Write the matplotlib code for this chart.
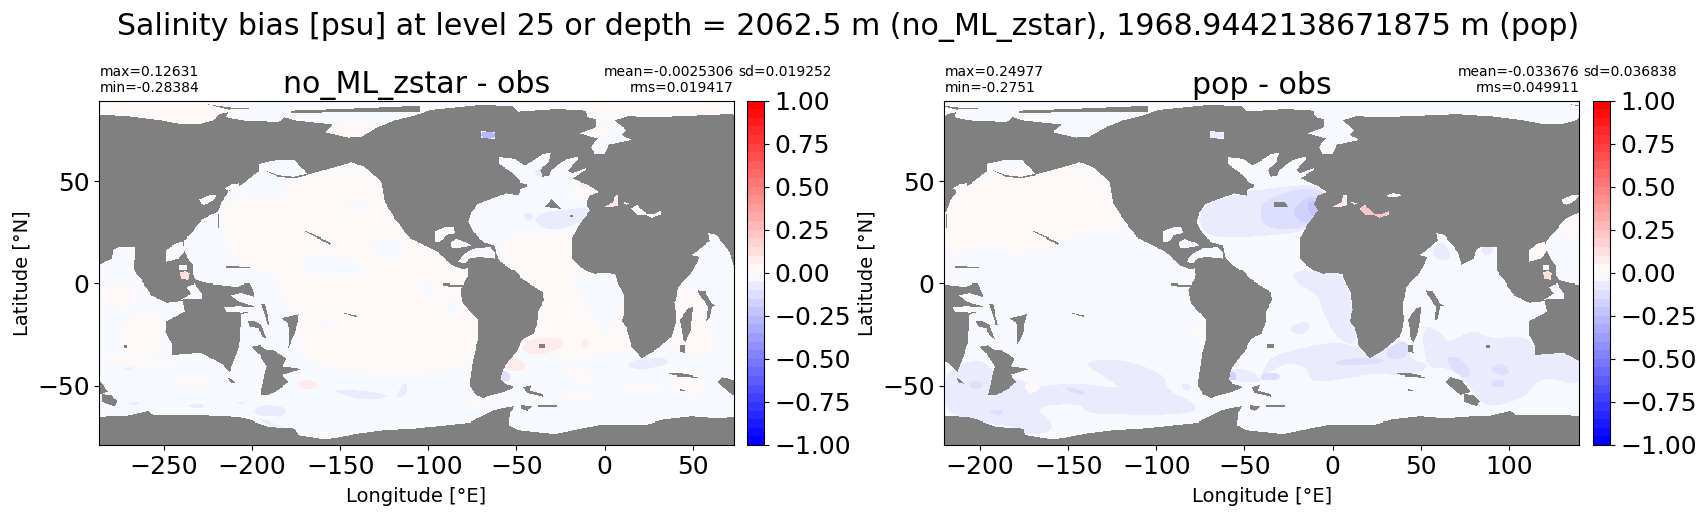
import matplotlib
matplotlib.use('Agg')
import matplotlib.pyplot as plt
import numpy as np
from matplotlib.path import Path

# all shapes are (lon, lat), seam of the map at 73E / -287E
main_land = [
    (-287, 82.7), (-270.4, 81.9), (-251.5, 79.8), (-242, 78.2), (-228.8, 78.2), (-222, 79.8), (-218.3, 83),
    (-213.6, 83.9), (-214.6, 81.4), (-206, 79.8), (-185, 79), (-181.5, 81.4), (-175.8, 79.8), (-158.7, 78.2),
    (-154, 77.7), (-158.7, 73.8), (-145.5, 71.2), (-138, 71.6), (-128.5, 76.5), (-119, 79.8), (-107.7, 82.2),
    (-99, 85), (-71.8, 87.4), (-51.9, 87.1), (-49, 84.2), (-26.3, 85.5), (-11.2, 84.7), (-9.3, 81.4),
    (-4.6, 80.3), (-4.6, 76.5), (-14, 73.3), (-7.4, 71.6), (-3.6, 70.8), (-7.8, 66.8), (-5.5, 63.5),
    (0.1, 63.5), (2, 67.6), (15.3, 70), (9.6, 72.5), (12.4, 74.9), (5.8, 79.8), (13.4, 81.9), (28.5, 81.4),
    (73, 83), (73, 9), (71.1, 15.5), (63.5, 23.6), (58.8, 24.4), (59.7, 21.2), (53.1, 16.3), (49.3, 13.9),
    (54, 13), (49.3, 4.9), (41.8, -1.6), (40.8, -8.1), (39.5, -9), (40.8, -17.9), (38, -26), (27.6, -33.4),
    (21, -36.6), (15.3, -31), (12.4, -21.2), (9.6, -18.7), (11.5, -13), (10.6, -4.9), (6.8, 1.6), (5.9, 4.5),
    (0.1, 5.2), (-5.5, 4.6), (-11.2, 6.5), (-15, 9), (-18.2, 12.2), (-18.2, 22), (-15, 27.7), (-10.3, 33.4),
    (-8.4, 35.8), (-10.3, 39.1), (-8.4, 43.2), (-3.6, 44.8), (-9.3, 48), (-12.2, 48.9), (-17.8, 51.3),
    (-11.2, 55.4), (-10.3, 56.5), (-14, 55.4), (-18.8, 53.7), (-20.7, 55.4), (-15, 61.1), (-15, 62.2),
    (-20.7, 61.1), (-24.5, 59.4), (-30.1, 55.4), (-31.1, 52.9), (-34.9, 52.1), (-36.7, 55.4), (-32, 59.4),
    (-30.1, 64.3), (-34.9, 63.5), (-43.4, 58.6), (-45.3, 57.8), (-50.9, 61.1), (-59.5, 61.9), (-59.5, 58.6),
    (-50.9, 52.9), (-47.2, 48.9), (-44.3, 48.4), (-44.3, 47.2), (-48.1, 45.6), (-49, 43.2), (-55.7, 44.3),
    (-67, 40.7), (-71.8, 39.1), (-75.5, 35), (-77, 30.1), (-74.6, 25.3), (-68.9, 20.4), (-62.3, 18.7),
    (-61.3, 13.9), (-58.9, 10.6), (-52.8, 6.5), (-50.9, 6.5), (-47.2, 2.4), (-34.9, -4.1), (-34.3, -8.1),
    (-37.7, -13.8), (-38.1, -20.3), (-40.5, -24.4), (-46.2, -26.9), (-50, -33.4), (-53.8, -37.4),
    (-57.6, -42.3), (-58.9, -46.4), (-56.6, -48.8), (-50.9, -50.5), (-56.6, -52.9), (-66.1, -55),
    (-68.9, -56.2), (-73.6, -54), (-76.5, -49.6), (-74.6, -37.4), (-71.7, -26.9), (-71.7, -17.9),
    (-80.3, -9.8), (-81.6, -3.2), (-77.4, 4.1), (-79.3, 6.5), (-86.9, 9), (-94.5, 15.5), (-107.7, 21.2),
    (-111.4, 22.8), (-119, 31.8), (-124.7, 39.9), (-126.6, 49.7), (-136, 57), (-143.6, 59.4), (-149.3, 57.8),
    (-168.2, 53.3), (-170, 54.9), (-175.8, 60.3), (-187.1, 60.3), (-196.2, 58.6), (-196.2, 54.9),
    (-200.4, 52.1), (-206, 48), (-213.6, 44.8), (-217.4, 39.9), (-219.3, 35), (-224, 33.4), (-228.8, 31),
    (-234.4, 24.4), (-238.6, 21.2), (-238.6, 16.3), (-236.3, 12.2), (-233.5, 9), (-233.5, 4.1), (-231.6, 1.6),
    (-225, 0), (-216.5, -0.8), (-208, -1.6), (-204.2, 0), (-201.3, 0), (-198.5, -4.9), (-198.5, -13.5),
    (-206, -15), (-207, -29.3), (-210.8, -39.1), (-212.7, -43.6), (-216.5, -39.9), (-228.8, -33.9),
    (-245.4, -35), (-245.4, -30.1), (-249, -23.6), (-248.6, -18.7), (-238.2, -13.8), (-239.5, -8.5),
    (-248.6, -9.4), (-257.1, -5.7), (-262.8, 1.6), (-267, 6.5), (-267, 10.6), (-266.6, 18.2), (-276, 17.9),
    (-278.9, 16.3), (-279.8, 12.2), (-287, 9),
]
antarctica = [
    (-287, -65.4), (-270.4, -64.8), (-259, -62.5), (-256.2, -64.3), (-232.5, -64.5), (-213.6, -65.1),
    (-204.2, -65.9), (-190.9, -70), (-175.8, -70.8), (-173.9, -74.1), (-160.6, -76), (-154, -75.7),
    (-139.8, -73.3), (-124.7, -71.6), (-107.7, -70.8), (-89.7, -69.2), (-76.5, -68), (-71.7, -65.9),
    (-62.3, -61.9), (-50.9, -59.9), (-53.8, -63.5), (-54.2, -69.2), (-49, -71.6), (-28.2, -73.6),
    (-13.1, -70.8), (-1.7, -68.9), (22.8, -69.2), (33.3, -66.7), (49.3, -65.1), (62.6, -66), (73, -65.6),
    (73, -85), (-287, -85),
]
islands = [
    [(-183.3, -17.1), (-173.3, -15.1), (-175.8, -24.4), (-179.6, -31.7), (-179, -27.7), (-179.6, -19.5)],
    [(-194.7, -9.8), (-192.8, -9.8), (-190, -20.3), (-191.3, -20.3)],
    [(-202.3, -18.7), (-198.5, -18.7), (-194.7, -20.3), (-191.9, -26.9), (-193.8, -26), (-196.6, -22), (-201.3, -21.2)],
    [(-200.4, -30.9), (-195.6, -30.1), (-191.9, -32.6), (-188.1, -32.6), (-180.5, -36.6), (-182.4, -40.7),
     (-172, -42), (-182.4, -44.8), (-179.6, -48), (-185.2, -52.1), (-190.9, -54.5), (-195.3, -54.5),
     (-192.8, -44), (-191.9, -40.7), (-195.6, -35)],
    [(-213.6, -45.9), (-210.8, -46.9), (-209.5, -48.8), (-212.7, -48)],
    [(64, -48), (66.9, -45.6), (73.5, -47.2), (78.2, -52.9), (72.6, -54.5), (65.9, -49.6)],
    [(74.8, -54), (80.1, -54.7), (83.6, -57.5), (82, -60.2), (74.8, -58)],
    [(-148.3, -14.6), (-147, -14.6), (-140.8, -15.8), (-141, -16.6)],
    [(-171, 25.7), (-170, 25.7), (-155, 20), (-156, 19.2)],
    [(-193, 55.4), (-185.2, 52.9), (-176.6, 52.1), (-168.2, 53.7), (-168.2, 52.9), (-176.6, 51.3), (-185.2, 52.1)],
    [(-228.8, 88.4), (-213.6, 86.3), (-200.4, 85.8), (-213.6, 85.2), (-223, 87.4)],
    [(-177.7, 84.7), (-149.3, 85.5), (-104.8, 87.1), (-104.8, 84.2), (-149.3, 83.9), (-177.7, 83.5)],
    [(-37.3, -29.6), (-33.5, -29.6), (-33.5, -31.7), (-37.3, -31.7)],
    [(-46.2, -50.5), (-41.5, -49.6), (-42.4, -52.4), (-34.9, -54), (-34.9, -55.3), (-44.3, -53.4)],
    [(-47, -59.5), (-41, -60.3), (-44, -62.5), (-47, -61.5)],
    [(-37.7, -59.7), (-27, -59.7), (-27, -60.6), (-37.7, -60.6)],
    [(42.7, -17.9), (47.4, -12.2), (50.3, -11.4), (49.3, -21.2), (46, -28.5), (44.6, -26.9)],
    [(53.1, -3.2), (57, -3.6), (60.7, -9.8), (63.5, -10.6), (60.7, -11.4), (59.7, -17.1), (57.9, -18.7), (58.8, -11.4), (54.1, -5.7)],
    [(42.7, -30.1), (45.6, -30.1), (46, -33.9), (42.7, -33.4)],
    [(35.2, -44.3), (43.7, -44), (53.5, -45.9), (43.7, -45.6)],
    [(42.7, -51.6), (45.6, -52), (45.6, -52.6), (42.7, -52.4)],
    [(-91.6, 0), (-79.3, -0.8), (-81.2, -1.6), (-91.6, -1.1)],
    [(-272.8, -29.8), (-270.8, -29.8), (-270.8, -31.3), (-272.8, -31.3)],
    [(-214.5, 8.5), (-208, 8.3), (-201, 7.9), (-201, 7.3), (-214.5, 7.7)],
    [(-219.3, 27), (-218.8, 27), (-218.8, 34), (-219.3, 34)],
    [(-224, -4.6), (-207, -4.7), (-207, -5.2), (-224, -5.1)],
]
# ridge tops that only stand out in the no_ML_zstar grid
zstar_land = [
    [(-33.9, 37.5), (-30.1, 41.5), (-24.5, 36.6)],
    [(-19.8, 33.5), (-17.8, 33.5), (-17.8, 32.3), (-19.8, 32.3)],
]
pop_land = [
    [(-33.1, 39.9), (-26.9, 39.9), (-25, 37.5), (-33.1, 37.5)],
]
inland_seas = [
    [(-215.5, 46.4), (-211.7, 48.4), (-207, 48.9), (-208, 46.4), (-213.6, 45.1)],
    [(-230.1, 41.2), (-224, 43.5), (-220.2, 43.5), (-222.1, 40.7), (-226.9, 38.6), (-229.1, 39.1)],
    [(-248.6, 16.3), (-243.9, 19.6), (-239.2, 20.7), (-238.6, 15.5), (-242, 12.2), (-248.6, 10.6)],
    [(-241, 9), (-237.3, 9), (-237.3, 6.5), (-241, 6.5)],
    [(-241, 5.2), (-238, 6), (-235.4, 4.8), (-236, 1.6), (-240, 2)],
    [(-237.3, -1.6), (-232.5, 0), (-228.8, -4.9), (-228.8, -7.3), (-240.1, -7.8), (-234.4, -4.9)],
    [(-211.7, -5.7), (-206, -4.5), (-198.5, -6.5), (-198.5, -11.1), (-204.2, -9.8), (-208.9, -8.1)],
    [(-215.5, -11.7), (-208, -11.1), (-198.5, -11.7), (-198.5, -13.8), (-206, -14.3), (-214.5, -13.8)],
    [(-96.4, 25.3), (-89.7, 27.7), (-85.9, 27.7), (-84.6, 24.4), (-89.7, 23.6), (-93.5, 20.4), (-96.4, 20.4)],
    [(-87.3, 20.4), (-84, 22), (-76.5, 19.6), (-75.5, 18.7), (-83.1, 17.4), (-86.9, 17.4)],
    [(-83.1, 10.6), (-79.3, 14.7), (-73.6, 17.4), (-65.1, 17.9), (-62.3, 15.5), (-62.3, 12.2), (-66.1, 12.6),
     (-71.8, 13), (-76.5, 12.2), (-79.3, 9.8)],
    [(-86.9, 4.9), (-83.1, 7), (-77.8, 7.3), (-77.8, 4.1), (-85, 4.1)],
    [(-0.2, 37.5), (4.9, 39.9), (5.8, 43.2), (8, 43.5), (8, 38.3), (3.9, 37.5)],
    [(10.5, 39.9), (14.3, 39.6), (12.4, 38.6)],
    [(15.3, 36.6), (18.1, 38.6), (23.8, 34.2), (28.5, 34.2), (32.3, 35.8), (32, 33.7), (26.6, 32.1), (23.8, 33.4), (18.1, 33.7)],
    [(-70, 74.4), (-62, 74), (-62, 70.5), (-70, 71)],
]
black_sea = [(30.5, 43.2), (34.7, 44.5), (39.4, 43.5), (35.6, 42.3), (31.8, 42.3)]

# (value, outline) painted in order on top of the base value
zstar_base = -0.02
zstar_patches = [
    (0.02, [(-217, 38), (-200, 46), (-180, 48), (-150, 58), (-126, 50), (-110, 22), (-85, 8), (-78, 5), (-72, -20),
            (-75, -42), (-120, -44), (-160, -42), (-176, -30), (-178, -8), (-190, 5), (-212, 12), (-216, 25)]),
    (0.02, [(-57, 22), (-40, 24), (-18, 24), (-18, 12), (0, 5), (9, -2), (10, -15), (14, -25), (20, -35), (5, -33),
            (-10, -36), (-30, -36), (-45, -26), (-50, -32), (-38, -20), (-35, -5), (-47, 2), (-55, 10), (-60, 15)]),
    (-0.02, [(-20, 6), (10, 4), (11, -12), (0, -28), (-5, -18), (-15, -8)]),
    (-0.02, [(-147.4, 41.5), (-132.3, 40.7), (-132.3, 36.6), (-147.4, 35.8)]),
    (-0.02, [(-206, 47), (-180, 48), (-180, 42), (-205, 42)]),
    (-0.02, [(-172, 14), (-150, 14), (-135, 8), (-135, 4), (-172, 4)]),
    (-0.02, [(-135, 22), (-115, 22), (-115, 12), (-130, 12)]),
    (-0.02, [(-104.9, 0), (-96.4, 0), (-96.4, -9), (-103, -7.3)]),
    (-0.02, [(-90.7, -8.1), (-83.1, -6.5), (-83.1, -16.3), (-88.8, -14.6)]),
    (-0.02, [(-164.4, -16.3), (-157, -15.5), (-155.9, -21.2), (-162.5, -22.8)]),
    (0.02, [(-25.4, -40.7), (-16.9, -39.9), (-5.5, -45.6), (-7.4, -48), (-18.8, -46.4)]),
    (0.02, [(9.6, -49.6), (32.3, -48), (33.3, -52.1), (13.4, -53.7)]),
    (0.02, [(-24.5, -53.7), (-1.7, -54.5), (-9.3, -57), (-22.6, -56.2)]),
    (0.02, [(-80.3, -57), (-54.7, -54.5), (-69.9, -58.6), (-79.3, -59.4)]),
    (0.02, [(41.8, -3.2), (53, -2.4), (57, -15), (60, -22), (62, -23), (62, -33), (47.4, -36), (40, -33)]),
    (0.02, [(36, -42.3), (57, -44), (57, -56), (40, -53.7)]),
    (0.02, [(-285.5, 0), (-264.7, -1.6), (-264.7, -9.8), (-276, -13), (-285.5, -8.1)]),
    (0.02, [(-272.3, -17.9), (-260.9, -14.6), (-253.3, -13), (-249.6, -31), (-264.7, -35.8), (-274.2, -32.6)]),
    (0.02, [(-285.5, -34.2), (-242, -37.4), (-245.8, -41.5), (-285.5, -38.3)]),
    (0.02, [(-244.8, -44.8), (-219.3, -47.2), (-220.2, -50.5), (-243.9, -49.6)]),
    (0.07, [(-47.2, -30.9), (-42.4, -26.9), (-26.3, -26), (-22.6, -29.3), (-26.3, -32.6), (-37.7, -35), (-45.3, -33.4)]),
    (0.07, [(-55.7, -40.7), (-52.8, -36.1), (-45.3, -38.3), (-45.3, -42.3), (-50.9, -43.1), (-56.6, -42.3)]),
    (0.07, [(-13.1, -26.9), (-8.9, -26.9), (-8.9, -31.3), (-12.2, -31.7)]),
    (0.07, [(-173.9, -48), (-168.2, -46.4), (-161.6, -49.6), (-168.2, -52.1), (-173.5, -50.5)]),
    (-0.12, [(-58.9, -44), (-56.6, -42.3), (-52.8, -45.6), (-54.7, -48), (-58.1, -47.2)]),
    (-0.07, [(11.5, -39.1), (24.7, -36.1), (34.2, -36.6), (37, -39.1), (28.5, -41.5), (17.2, -42.3)]),
    (-0.07, [(-199.4, -61.9), (-194.7, -59.4), (-181.4, -60.2), (-180.5, -65.1), (-196.6, -65.1)]),
    (-0.07, [(-198.5, -65.9), (-189, -67.6), (-180.5, -70.8), (-190.9, -69.2)]),
    (-0.07, [(-154, -52.1), (-138, -52.1), (-122, -54.5), (-126.6, -56.2), (-139.8, -57), (-150, -53.7)]),
    (-0.07, [(-118, -54.5), (-114.3, -48.8), (-111.8, -48.8), (-112.4, -54.5), (-116.7, -55.7)]),
    (-0.07, [(-236.3, -59.4), (-227.8, -58.6), (-226.9, -61), (-234.4, -61)]),
    (-0.07, [(-270.4, -58.6), (-263.8, -57.8), (-264.7, -59.4), (-269.4, -59.9)]),
    (-0.07, [(-272.3, -41.5), (-267.5, -41), (-268.5, -42.6), (-271.9, -42.6)]),
    (-0.07, [(-209.8, -57.8), (-202.3, -57.8), (-206, -59.4)]),
    (0.1, [(-241, 5.7), (-235.4, 5.7), (-235.4, 1.6), (-241, 1.6)]),
    (-0.07, [(-39.6, 31), (-35.8, 35), (-24.5, 35.8), (-9.3, 37.5), (-8.4, 33.4), (-15, 29.3), (-26.3, 26), (-34.9, 26.9), (-38.6, 30.1)]),
    (-0.07, [(-46.2, 34.2), (-41.5, 35), (-40.5, 31), (-45.3, 31)]),
    (-0.07, [(-39.6, 55.4), (-30.1, 56.5), (-33, 52.1), (-36.7, 52.1), (-40.5, 53.7)]),
    (0.02, [(-20.7, 44.8), (-13.1, 48), (-3.6, 44.8), (-9.3, 41.5), (-18.8, 40.7)]),
    (0.07, [(-14, 49), (-10, 49), (-10, 46.5), (-14, 46.5)]),
    (0.02, [(-14, 73.3), (-4.6, 76.5), (4, 77.3), (-1.8, 70.8), (-7.4, 71.6)]),
    (0.02, [(-287, 89.5), (-215, 89.5), (-200, 78), (-287, 78)]),
    (0.02, [(-155, 78), (-128, 78), (-130, 71), (-158, 71)]),
    (0.02, [(-15, 89.5), (73, 89.5), (73, 80), (-15, 80)]),
    (0.07, [(-0.2, 37.5), (4.9, 39.9), (5.8, 43.2), (8, 43.5), (8, 38.3), (3.9, 37.5)]),
    (0.12, [(10.5, 39.9), (14.3, 39.6), (12.4, 38.6)]),
    (0.02, [(15.3, 36.6), (18.1, 38.6), (23.8, 34.2), (28.5, 34.2), (32.3, 35.8), (32, 33.7), (26.6, 32.1), (23.8, 33.4), (18.1, 33.7)]),
    (-0.28, [(-70, 74.4), (-62, 74), (-62, 70.5), (-70, 71)]),
]
pop_base = -0.02
pop_patches = [
    (0.02, [(-220.5, 39.9), (-205.9, 48.9), (-187, 53.7), (-145.2, 58.6), (-126.3, 44.8), (-125.4, 38.3), (-116.8, 30.1),
            (-120.6, 26.9), (-156.6, 22), (-158.5, 15.5), (-173.7, 17.1), (-182.2, 10.6), (-186.9, 20.4), (-207.7, 17.1),
            (-211.5, 13.9), (-220.5, 18.7)]),
    (0.02, [(130, 22), (130, 33), (140.5, 38), (140.5, 22)]),
    (0.02, [(110, 10), (122, 10), (122, 22), (110, 22)]),
    (0.1, [(118.9, 5.7), (126.5, 5.7), (126.5, 1.6), (118.9, 1.6)]),
    (-0.07, [(-76, 30), (-73.3, 38.3), (-56.2, 44), (-12.7, 48.9), (-3.2, 44.8), (-8.9, 36.6), (-9.8, 30.1), (-17.4, 25.3),
             (-29.7, 23.6), (-60, 22), (-71.4, 23.6)]),
    (-0.12, [(-41, 41), (-15, 47), (-4, 44.5), (-9, 36), (-9, 30), (-17, 27), (-33, 26), (-41, 30)]),
    (-0.17, [(-22, 37), (-15, 42), (-9, 43), (-8.5, 36), (-10, 31), (-16, 29), (-22, 33)]),
    (-0.22, [(-15, 40), (-9, 41), (-8.5, 34), (-12, 32)]),
    (0.02, [(-60, 60), (-46, 56), (-53, 53), (-60, 57)]),
    (-0.07, [(-22.1, 6.5), (4.4, 5.7), (10, -4.9), (11.9, -17.9), (13.8, -31), (2.5, -26.9), (-6, -13.8), (-8, -5.7),
             (-16.5, -1.6), (-22.1, 1.6)]),
    (-0.07, [(-25, -21.2), (-13.6, -17.9), (-12.7, -22.8), (-20.3, -25.2)]),
    (-0.07, [(-35.4, -35.8), (-22.1, -32.6), (-10.8, -30.1), (4.4, -28.5), (15.7, -31.7), (29, -32.6), (42.3, -26), (44.2, -37.4),
             (53.6, -39.1), (53.6, -42.3), (38.5, -45.6), (27.1, -44), (11.9, -45.6), (-5.1, -48), (-12.7, -47.2), (-14.6, -40.7),
             (-25.9, -39.1), (-33.5, -42.3), (-41, -45.6)]),
    (-0.07, [(49.8, -19.5), (63.1, -24.4), (65, -29.3), (80.1, -22), (87.7, -26.9), (110.4, -25.2), (116.1, -34.2), (140.5, -35),
             (140.5, -50.5), (123.7, -45.6), (114.2, -48.8), (110.4, -55.3), (85.8, -61.9), (76.4, -47.2), (63.1, -40.7), (53.6, -42.3)]),
    (-0.12, [(0.6, -38.3), (15.7, -36.1), (29, -36.6), (28.1, -39.4), (15.7, -39.9), (1.5, -39.9)]),
    (-0.12, [(30.9, -31.7), (42.3, -26.9), (43.2, -36.6), (30.9, -37.4)]),
    (-0.12, [(63.1, -35.8), (72.6, -35.8), (80.1, -45.6), (70.7, -45.6)]),
    (-0.12, [(88.7, -42.3), (95.3, -38.3), (101.9, -44), (95.3, -45.6)]),
    (-0.12, [(89.6, -47.2), (97.2, -46.4), (98.1, -50.5), (90.6, -50.5)]),
    (-0.12, [(-41, -44), (-29.7, -44), (-29.7, -46.9), (-41, -47.2)]),
    (-0.07, [(-211.5, -39.1), (-198.3, -37.4), (-194.5, -42.3), (-179.3, -46.4), (-166, -50.5), (-152.8, -48.8), (-141.5, -48.8),
             (-122.5, -51.3), (-122.5, -48.8), (-141.5, -39.9), (-133.9, -37.1), (-115, -37.8), (-94.1, -45.6), (-94.1, -52.1),
             (-77, -58.6), (-79, -64.3), (-124.4, -64.3), (-139.6, -63.5), (-143.4, -58.6), (-169.9, -60.2), (-158.5, -68.4),
             (-160.4, -73.3), (-175.5, -73.3), (-177.4, -70), (-196.4, -68.4), (-220.5, -63.5), (-220.5, -45.6), (-215.3, -42.3)]),
    (0.02, [(-175.5, -49.6), (-168, -46.4), (-164.2, -50.5), (-171.8, -54.5)]),
    (-0.12, [(-151.9, -50.5), (-141.5, -52.1), (-140.5, -55), (-151, -52.4)]),
    (-0.12, [(-206.8, -48), (-199.2, -47.2), (-198.3, -51.3), (-205.9, -51.3)]),
    (-0.12, [(-194.5, -61.9), (-186.9, -61.9), (-186.9, -64.3), (-193.6, -64.3)]),
    (-0.07, [(-85.6, -48.8), (-79.9, -49.6), (-80.8, -52.4), (-84.7, -52.1)]),
    (0.02, [(-81.8, -21.2), (-74.2, -20.3), (-71.4, -31.7), (-79, -26)]),
    (-0.07, [(58.4, 19.6), (64, 20.4), (67.8, 12.2), (62.1, 11.4), (56.5, 13)]),
    (-0.07, [(83.9, 17.9), (91.5, 18.7), (90.6, 14.2), (84.9, 13.9)]),
    (-0.07, [(-59, -42.3), (-51.5, -41.5), (-41, -45.6), (-41, -48.8), (-58, -47.2)]),
    (-0.17, [(-59, -44), (-55.3, -43.1), (-54.3, -47.2), (-58.5, -47.2)]),
    (0.07, [(-0.2, 37.5), (4.9, 39.9), (5.8, 43.2), (8, 43.5), (8, 38.3), (3.9, 37.5)]),
    (0.07, [(10.5, 39.9), (14.3, 39.6), (12.4, 38.6)]),
    (0.22, [(15.3, 36.6), (18.1, 38.6), (23.8, 34.2), (28.5, 34.2), (32.3, 35.8), (32, 33.7), (26.6, 32.1), (23.8, 33.4), (18.1, 33.7)]),
    (-0.07, [(-70, 74.4), (-62, 74), (-62, 70.5), (-70, 71)]),
]

zstar_stats = {'max': '0.12631', 'min': '-0.28384', 'mean': '-0.0025306', 'sd': '0.019252', 'rms': '0.019417'}
pop_stats = {'max': '0.24977', 'min': '-0.2751', 'mean': '-0.033676', 'sd': '0.036838', 'rms': '0.049911'}
suptitle = 'Salinity bias [psu] at level 25 or depth = 2062.5 m (no_ML_zstar), 1968.9442138671875 m (pop)'
cbar_ticks = [-1, -0.75, -0.5, -0.25, 0, 0.25, 0.5, 0.75, 1]


def round_corners(poly, passes=2):
    # the field patches are contours, so take the hard corners off the outlines
    pts = np.array(poly, dtype=float)
    for _ in range(passes):
        nxt = np.roll(pts, -1, axis=0)
        pts = np.column_stack([0.75 * pts + 0.25 * nxt, 0.25 * pts + 0.75 * nxt]).reshape(-1, 2)
    return pts


def inside(poly, lon, lat):
    # polygons may cross the seam, so also test one turn either side
    path = Path(poly)
    hit = np.zeros(lon.shape, dtype=bool)
    for shift in (-360, 0, 360):
        pts = np.column_stack([lon.ravel() + shift, lat.ravel()])
        hit |= path.contains_points(pts).reshape(lon.shape)
    return hit


def make_field(lon, lat, base, patches, seas, extra_land):
    field = np.full(lon.shape, base, dtype=float)
    for value, poly in patches:
        field[inside(round_corners(poly), lon, lat)] = value
    land = inside(main_land, lon, lat) | inside(antarctica, lon, lat)
    for poly in seas:
        land[inside(poly, lon, lat)] = False
    for poly in islands + extra_land:
        land |= inside(poly, lon, lat)
    return np.ma.masked_where(land, field)


def plot_panel(fig, rect, cbar_rect, xlim, xticks, base, patches, seas, extra_land, stats, title):
    ax = fig.add_axes(rect)
    lon_edges = np.arange(xlim[0], xlim[1] + 0.5, 0.5)
    lat_edges = np.arange(-79, 90, 0.5)
    lon, lat = np.meshgrid(lon_edges[:-1] + 0.25, lat_edges[:-1] + 0.25)
    cmap = plt.get_cmap('bwr', 40).copy()
    cmap.set_bad('gray')
    mesh = ax.pcolormesh(lon_edges, lat_edges, make_field(lon, lat, base, patches, seas, extra_land),
                         cmap=cmap, vmin=-1, vmax=1)
    ax.set_facecolor('gray')
    ax.set_xlim(xlim)
    ax.set_ylim(-79, 89.5)
    ax.set_xticks(xticks)
    ax.set_yticks([-50, 0, 50])
    ax.tick_params(labelsize=18)
    ax.set_xlabel('Longitude [°E]', fontsize=14, labelpad=6)
    ax.set_ylabel('Latitude [°N]', fontsize=14)
    ax.set_title(title, fontsize=21.6, pad=3)
    ax.text(0, 1.015, 'max=%s\nmin=%s' % (stats['max'], stats['min']), transform=ax.transAxes,
            fontsize=10, ha='left', va='bottom')
    ax.text(1, 1.015, 'mean=%s\nrms=%s' % (stats['mean'], stats['rms']), transform=ax.transAxes,
            fontsize=10, ha='right', va='bottom', multialignment='right')
    ax.text(1.0065, 1.015, 'sd=%s\n ' % stats['sd'], transform=ax.transAxes,
            fontsize=10, ha='left', va='bottom')
    cax = fig.add_axes(cbar_rect)
    cbar = fig.colorbar(mesh, cax=cax, ticks=cbar_ticks)
    cbar.ax.tick_params(labelsize=18)
    cbar.ax.set_yticklabels(['%.2f' % t if t >= 0 else '\u2212%.2f' % -t for t in cbar_ticks])
    return ax


W, H = 1706.0, 517.0


def px_rect(left, right, top, bottom):
    return [left / W, 1 - bottom / H, (right - left) / W, (bottom - top) / H]


fig = plt.figure(figsize=(W / 100, H / 100), dpi=100)
plot_panel(fig, px_rect(99.3, 733.7, 100.5, 445), px_rect(747.3, 764.3, 100.5, 445), (-286.7, 73.3),
           [-250, -200, -150, -100, -50, 0, 50], zstar_base, zstar_patches, inland_seas, zstar_land, zstar_stats,
           'no_ML_zstar - obs')
plot_panel(fig, px_rect(944.3, 1579.3, 100.5, 445), px_rect(1593.3, 1610.3, 100.5, 445), (-220.3, 140),
           [-200, -150, -100, -50, 0, 50, 100], pop_base, pop_patches, inland_seas + [black_sea], pop_land, pop_stats,
           'pop - obs')
fig.text(0.4970, 0.9485, suptitle, fontsize=21.6, ha='center', va='center')
fig.savefig('out.png', dpi=100)
